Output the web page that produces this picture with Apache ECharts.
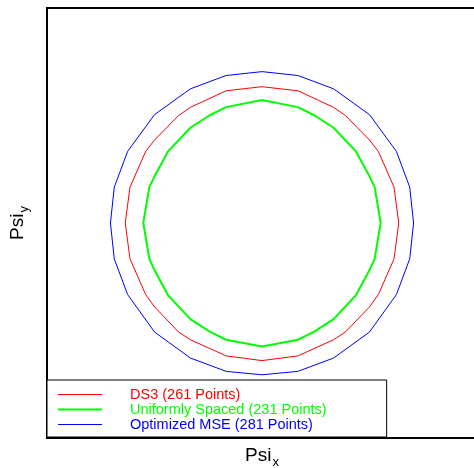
<!DOCTYPE html>
<html><head><meta charset="utf-8">
<script src="https://cdn.jsdelivr.net/npm/echarts@6/dist/echarts.min.js"></script>
<style>html,body{margin:0;padding:0;background:#fff}#c{width:474px;height:468px}</style>
</head><body><div id="c"></div>
<script>
const seriesNames = ['DS3 (261 Points)', 'Uniformly Spaced (231 Points)', 'Optimized MSE (281 Points)'];
const seriesColors = ['#ff0000', '#00ff00', '#0000ff'];
const ds3Contour = [[0,0.634],[0.167,0.615],[0.333,0.538],[0.388,0.5],[0.5,0.386],[0.541,0.333],[0.614,0.167],[0.636,0],[0.614,-0.167],[0.541,-0.333],[0.5,-0.39],[0.388,-0.507],[0.333,-0.543],[0.167,-0.618],[0,-0.64],[-0.167,-0.618],[-0.333,-0.543],[-0.388,-0.507],[-0.5,-0.39],[-0.541,-0.333],[-0.614,-0.167],[-0.636,0],[-0.614,0.167],[-0.541,0.333],[-0.5,0.386],[-0.388,0.5],[-0.333,0.538],[-0.167,0.615],[0,0.634]];
const uniformContour = [[0,0.572],[0.167,0.539],[0.245,0.5],[0.333,0.443],[0.437,0.333],[0.5,0.217],[0.524,0.167],[0.552,0],[0.524,-0.167],[0.5,-0.219],[0.437,-0.336],[0.333,-0.447],[0.245,-0.504],[0.167,-0.543],[0,-0.574],[-0.167,-0.543],[-0.245,-0.504],[-0.333,-0.447],[-0.437,-0.336],[-0.5,-0.219],[-0.524,-0.167],[-0.552,0],[-0.524,0.167],[-0.5,0.217],[-0.437,0.333],[-0.333,0.443],[-0.245,0.5],[-0.167,0.539],[0,0.572]];
const mseContour = [[0,0.704],[0.167,0.686],[0.333,0.624],[0.5,0.504],[0.625,0.333],[0.687,0.167],[0.705,0],[0.687,-0.167],[0.625,-0.333],[0.5,-0.507],[0.333,-0.628],[0.167,-0.69],[0,-0.706],[-0.167,-0.69],[-0.333,-0.628],[-0.5,-0.507],[-0.625,-0.333],[-0.687,-0.167],[-0.705,0],[-0.687,0.167],[-0.625,0.333],[-0.5,0.504],[-0.333,0.624],[-0.167,0.686],[0,0.704]];
const contours = [ds3Contour, uniformContour, mseContour];
const lineWidths = [1, 2, 1];

const chart = echarts.init(document.getElementById('c'), null, {renderer: 'canvas'});
const font = 'Liberation Sans, Arial, sans-serif';
chart.setOption({
  animation: false,
  backgroundColor: '#fff',
  grid: {left: 47, top: 8, width: 430, height: 430, show: true, borderColor: '#000', borderWidth: 2, backgroundColor: 'transparent', containLabel: false, outerBoundsMode: 'none'},
  xAxis: {
    type: 'value', min: -1, max: 1,
    axisLine: {show: false}, axisTick: {show: false}, axisLabel: {show: false}, splitLine: {show: false},
    name: '{a|Psi}{b|x}', nameLocation: 'middle', nameGap: 4,
    nameTextStyle: {verticalAlign: 'top', rich: {a: {fontFamily: font, fontSize: 19, color: '#000'}, b: {fontFamily: font, fontSize: 13, color: '#000', padding: [14, 0, 0, 1]}}}
  },
  yAxis: {
    type: 'value', min: -1, max: 1,
    axisLine: {show: false}, axisTick: {show: false}, axisLabel: {show: false}, splitLine: {show: false},
    name: '{a|Psi}{b|y}', nameLocation: 'middle', nameGap: 16,
    nameTextStyle: {rich: {a: {fontFamily: font, fontSize: 19, color: '#000'}, b: {fontFamily: font, fontSize: 13, color: '#000', padding: [14, 0, 0, 1]}}}
  },
  legend: {
    orient: 'vertical', left: 47, top: 380,
    padding: [7, 60, 5, 10], itemGap: 0, itemWidth: 44, itemHeight: 14,
    borderColor: '#000', borderWidth: 1, backgroundColor: '#fff',
    itemStyle: {opacity: 0},
    data: seriesNames.map((n, i) => ({name: n, textStyle: {color: seriesColors[i]}, lineStyle: {width: lineWidths[i]}})),
    textStyle: {fontFamily: font, fontSize: 14.5, padding: [0, 0, 0, 23]}
  },
  series: contours.map((d, i) => ({
    type: 'line', name: seriesNames[i], data: d, symbol: 'none', showSymbol: false,
    lineStyle: {color: seriesColors[i], width: lineWidths[i]}, itemStyle: {color: seriesColors[i]}
  }))
});
</script></body></html>
